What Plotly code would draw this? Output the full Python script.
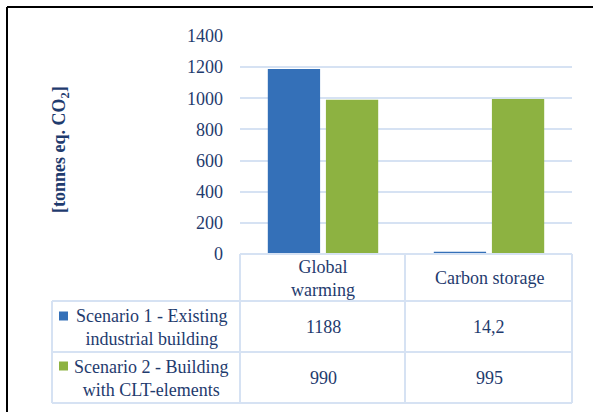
import plotly.graph_objects as go

categories = ["Global<br>warming", "Carbon storage"]
series_names = ["Scenario 1 - Existing<br>industrial building",
                "Scenario 2 - Building<br>with CLT-elements"]
scenario1 = [1188, 14.2]
scenario2 = [990, 995]
table_s1 = ["1188", "14,2"]
table_s2 = ["990", "995"]
tick_vals = [0, 200, 400, 600, 800, 1000, 1200, 1400]
colors = ["#3470B8", "#8DB241"]

W, H = 593, 412
L, R, T, B = 240, 21, 36, 158
PW, PH = W - L - R, H - T - B

def px(x):
    return (x - L) / PW

def py(y):
    return (H - B - y) / PH

FONT = "Liberation Serif"
TXT = "#1F3B6E"
GRID = "#D6E2F3"
FS = 18

fig = go.Figure()
for name, vals, col in zip(series_names, [scenario1, scenario2], colors):
    fig.add_trace(go.Bar(x=categories, y=vals, name=name, marker=dict(color=col, line=dict(width=0))))

shapes = []
# table lines
for yy in [254, 301, 352, 403]:
    x0 = 240 if yy == 254 else 52
    shapes.append(dict(type="line", xref="paper", yref="paper", x0=px(x0), x1=px(572),
                       y0=py(yy), y1=py(yy), line=dict(color=GRID, width=2)))
for xx, y0 in [(52, 301), (240, 254), (405, 254), (572, 254)]:
    shapes.append(dict(type="line", xref="paper", yref="paper", x0=px(xx), x1=px(xx),
                       y0=py(y0), y1=py(403), line=dict(color=GRID, width=2)))
# legend keys
for yc, col in [(316, colors[0]), (366, colors[1])]:
    shapes.append(dict(type="rect", xref="paper", yref="paper", x0=px(59), x1=px(68),
                       y0=py(yc + 4.5), y1=py(yc - 4.5), fillcolor=col, line=dict(width=0)))
# outer black border (left and top)
shapes.append(dict(type="line", xref="paper", yref="paper", x0=px(7), x1=px(7),
                   y0=py(7), y1=py(412), line=dict(color="black", width=2)))
shapes.append(dict(type="line", xref="paper", yref="paper", x0=px(7), x1=px(593),
                   y0=py(7), y1=py(7), line=dict(color="black", width=2)))

ann = []
font = dict(family=FONT, size=FS, color=TXT)
for i, c in enumerate(categories):
    ann.append(dict(x=i, xref="x", xanchor="center", y=py(278), yref="paper", yanchor="middle",
                    text=c, showarrow=False, font=font))
    ann.append(dict(x=i, xref="x", xanchor="center", y=py(327), yref="paper", yanchor="middle",
                    text=table_s1[i], showarrow=False, font=font))
    ann.append(dict(x=i, xref="x", xanchor="center", y=py(378), yref="paper", yanchor="middle",
                    text=table_s2[i], showarrow=False, font=font))
for name, yc in zip(series_names, [327, 378]):
    ann.append(dict(x=px(151), xref="paper", xanchor="center", y=py(yc), yref="paper",
                    yanchor="middle", text=name, showarrow=False, font=font, align="center"))
ann.append(dict(x=px(60), xref="paper", y=py(150), yref="paper", xanchor="center", yanchor="middle",
                text="<b>[tonnes eq. CO<sub>2</sub>]</b>",
                showarrow=False, textangle=-90, font=dict(family=FONT, size=18, color=TXT)))

fig.update_layout(
    width=W, height=H, margin=dict(l=L, r=R, t=T, b=B),
    paper_bgcolor="white", plot_bgcolor="white",
    barmode="group", bargap=0.3, bargroupgap=0.1,
    showlegend=False,
    shapes=shapes, annotations=ann,
    xaxis=dict(showticklabels=False, showgrid=False, zeroline=False, showline=False),
    yaxis=dict(range=[0, 1400], tickvals=tick_vals, showgrid=True, gridcolor=GRID, gridwidth=2,
               zeroline=False, showline=False, ticks="", ticklabelstandoff=16,
               tickfont=dict(family=FONT, size=FS, color=TXT)),
)
fig.write_html("out.html")
